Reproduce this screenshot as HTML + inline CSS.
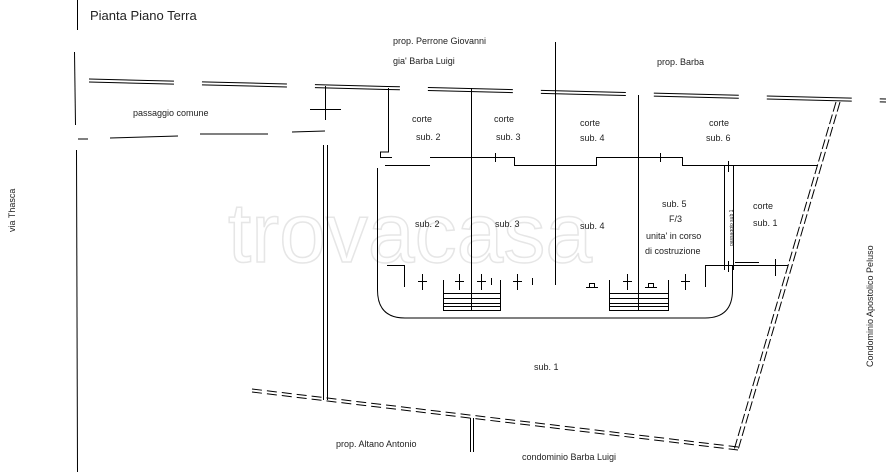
<!DOCTYPE html>
<html><head><meta charset="utf-8"><style>
html,body{margin:0;padding:0;background:#fff;width:886px;height:472px;overflow:hidden}
svg{display:block}
text{font-family:"Liberation Sans",sans-serif;fill:#222}
</style></head><body>
<svg width="886" height="472" viewBox="0 0 886 472" xmlns="http://www.w3.org/2000/svg">
<text x="410" y="262" font-size="84" fill="none" stroke="#e6e6e6" stroke-width="1.5" text-anchor="middle" style="fill:none">trovacasa</text>
<g stroke="#000" stroke-width="1" fill="none">
<!-- left vertical -->
<line x1="77.5" y1="0" x2="77.5" y2="30"/>
<line x1="74.5" y1="52" x2="75.5" y2="125"/>
<line x1="76.5" y1="150" x2="77.5" y2="472"/>
<!-- top double dashed -->
<g stroke-dasharray="85,28">
<line x1="89" y1="79" x2="886" y2="99"/>
<line x1="89" y1="82" x2="886" y2="102"/>
</g>
<!-- lower single dashed -->
<line x1="78" y1="139" x2="88" y2="139"/>
<line x1="110" y1="138" x2="178" y2="136"/>
<line x1="200" y1="134" x2="268" y2="134"/>
<line x1="292" y1="132" x2="325" y2="131"/>
<!-- vertical x=325 -->
<line x1="325.5" y1="86" x2="325.5" y2="120"/>
<line x1="310" y1="109.5" x2="341" y2="109.5"/>
<line x1="323.5" y1="145" x2="323.5" y2="400"/>
<line x1="327.5" y1="145" x2="327.5" y2="400"/>
<!-- vertical 388 -->
<polyline points="388.5,88 388.5,152 380.5,152 380.5,158"/>
<line x1="380" y1="157.5" x2="392" y2="157.5"/>
<!-- partition -->
<line x1="385" y1="165.5" x2="430" y2="165.5"/>
<polyline points="430,157.5 514.5,157.5 514.5,165.5 596.5,165.5 596.5,157.5 682.5,157.5 682.5,165.5 818,165.5"/>
<line x1="495.5" y1="153" x2="495.5" y2="162"/>
<line x1="660.5" y1="153" x2="660.5" y2="162"/>
<!-- verticals -->
<line x1="555.5" y1="42" x2="555.5" y2="285"/>
<line x1="471.5" y1="88" x2="471.5" y2="310"/>
<line x1="638.5" y1="95" x2="638.5" y2="310"/>
<!-- building outline -->
<path d="M377.5,168 V290 Q377.5,318 405,318 H705 Q732.5,318 732.5,290 V265.5"/>
<polyline points="387,265.5 404.5,265.5 404.5,287"/>
<!-- corridor -->
<line x1="724.5" y1="165" x2="724.5" y2="270"/>
<line x1="733.5" y1="165" x2="733.5" y2="270"/>
<line x1="728.5" y1="161" x2="728.5" y2="172"/>
<line x1="705" y1="265.5" x2="788" y2="265.5"/>
<line x1="735" y1="262.5" x2="759" y2="262.5"/>
<line x1="775.5" y1="259" x2="775.5" y2="276"/>
<line x1="728.5" y1="261" x2="728.5" y2="272"/>
<!-- stairs -->
<rect x="443.5" y="293.5" width="57" height="17"/>
<line x1="443" y1="298.5" x2="501" y2="298.5"/>
<line x1="443" y1="303.5" x2="501" y2="303.5"/>
<line x1="443" y1="306.5" x2="501" y2="306.5"/>
<rect x="609.5" y="293.5" width="59" height="17"/>
<line x1="609" y1="298.5" x2="669" y2="298.5"/>
<line x1="609" y1="303.5" x2="669" y2="303.5"/>
<line x1="609" y1="306.5" x2="669" y2="306.5"/>
<!-- stubs -->
<g>
<line x1="443.5" y1="280" x2="443.5" y2="293"/><line x1="500.5" y1="280" x2="500.5" y2="293"/>
<line x1="609.5" y1="280" x2="609.5" y2="293"/><line x1="668.5" y1="280" x2="668.5" y2="293"/>
<line x1="422.5" y1="274" x2="422.5" y2="290"/><line x1="418" y1="281.5" x2="427" y2="281.5"/>
<line x1="459.5" y1="274" x2="459.5" y2="290"/><line x1="455" y1="281.5" x2="464" y2="281.5"/>
<line x1="481.5" y1="274" x2="481.5" y2="290"/><line x1="477" y1="281.5" x2="486" y2="281.5"/>
<line x1="517.5" y1="274" x2="517.5" y2="290"/><line x1="513" y1="281.5" x2="522" y2="281.5"/>
<line x1="532.5" y1="278" x2="532.5" y2="285"/><line x1="491.5" y1="278" x2="491.5" y2="285"/>
<rect x="589.5" y="283.5" width="5" height="4"/><line x1="586" y1="287.5" x2="598" y2="287.5"/>
<rect x="648.5" y="283.5" width="5" height="4"/><line x1="645" y1="287.5" x2="657" y2="287.5"/>
<line x1="627.5" y1="274" x2="627.5" y2="290"/><line x1="623" y1="281.5" x2="632" y2="281.5"/>
<line x1="685.5" y1="274" x2="685.5" y2="290"/><line x1="681" y1="281.5" x2="690" y2="281.5"/>
<line x1="705.5" y1="265" x2="705.5" y2="287"/>
</g>
<!-- right diagonal -->
<g stroke-dasharray="10,3">
<line x1="836" y1="102" x2="734" y2="450"/>
<line x1="840" y1="102" x2="738" y2="450"/>
</g>
<!-- bottom double dashed -->
<g stroke-dasharray="10,5">
<line x1="252" y1="389" x2="738" y2="447"/>
<line x1="252" y1="392" x2="738" y2="450"/>
</g>
<line x1="470.5" y1="418" x2="470.5" y2="452"/>
<line x1="473.5" y1="418" x2="473.5" y2="452"/>
</g>
<g font-size="9">
<text x="90" y="20" font-size="13" fill="#111">Pianta Piano  Terra</text>
<text x="393" y="44">prop. Perrone Giovanni</text>
<text x="393" y="64">gia' Barba Luigi</text>
<text x="657" y="65">prop. Barba</text>
<text x="133" y="116">passaggio comune</text>
<text x="412" y="122">corte</text><text x="416" y="140">sub. 2</text>
<text x="494" y="122">corte</text><text x="496" y="140">sub. 3</text>
<text x="580" y="126">corte</text><text x="580" y="141">sub. 4</text>
<text x="709" y="126">corte</text><text x="706" y="141">sub. 6</text>
<text x="415" y="227">sub. 2</text>
<text x="495" y="227">sub. 3</text>
<text x="580" y="229">sub. 4</text>
<text x="662" y="207">sub. 5</text>
<text x="669" y="222">F/3</text>
<text x="646" y="239">unita' in corso</text>
<text x="645" y="254">di costruzione</text>
<text x="753" y="209">corte</text>
<text x="753" y="226">sub. 1</text>
<text x="534" y="370">sub. 1</text>
<text x="336" y="447">prop. Altano Antonio</text>
<text x="522" y="460">condominio Barba Luigi</text>
<text transform="translate(15,232) rotate(-90)">via Thasca</text>
<text transform="translate(873,367) rotate(-90)">Condominio Apostolico Peluso</text>
<text transform="translate(733,246) rotate(-90)" font-size="5">passaggio sub 1</text>
</g>
</svg>
</body></html>
